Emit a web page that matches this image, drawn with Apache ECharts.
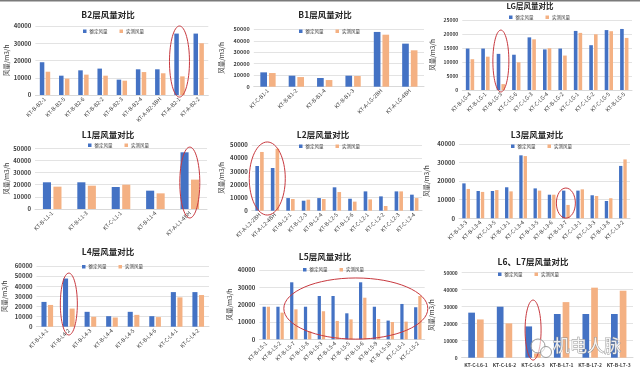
<!DOCTYPE html>
<html><head><meta charset="utf-8">
<script src="https://cdn.jsdelivr.net/npm/echarts@6/dist/echarts.min.js"></script>
<style>html,body{margin:0;padding:0;background:#fff}#c{width:640px;height:374px}</style>
</head><body><div id="c"></div>
<script>
// ---- Data ----
const seriesNames = ['额定风量', '实测风量'];
const yName = '风量/m3/h';

const b2Cats = ['KT-B-B2-1','KT-B-B2-5','KT-B-B2-6','KT-B-B2-2','KT-B-B2-3','KT-B-B2-4','KT-A-B2-3BH','KT-A-B2-1','KT-A-B2-2'];
const b2Rated = [19000,11200,14300,15300,8900,14900,14900,35600,35600];
const b2Measured = [13500,9500,11800,11200,8300,13300,12600,10800,30000];

const b1Cats = ['KT-C-B1-1','KT-B-B1-2','KT-B-B1-4','KT-B-B1-3','KT-A-LG-2BH','KT-A-LG-4BH'];
const b1Rated = [12500,9600,7600,9600,47700,37500];
const b1Measured = [11900,8400,5800,9300,45300,31700];

const lgCats = ['KT-B-LG-4','KT-B-LG-1','KT-B-LG-3','KT-C-LG-6','KT-C-LG-3','KT-C-LG-4','KT-B-LG-2','KT-C-LG-1','KT-C-LG-2','KT-C-LG-5','KT-B-LG-5'];
const lgRated = [14800,14800,12900,12600,18800,14500,14800,21100,16000,21400,21800];
const lgMeasured = [11000,11900,2100,9900,18100,14900,12300,20400,19900,21000,18600];

const l1Cats = ['KT-B-L1-1','KT-B-L1-3','KT-C-L1-1','KT-B-L1-4','KT-A-L1-4BH'];
const l1Rated = [22000,22000,18100,15100,46700];
const l1Measured = [18400,19200,20000,12900,24200];

const l2Cats = ['KT-A-L2-2BH','KT-A-L2-4BH','KT-B-L2-1','KT-B-L2-3','KT-B-L2-4','KT-B-L2-5','KT-B-L2-6','KT-C-L2-1','KT-C-L2-2','KT-C-L2-3','KT-C-L2-4'];
const l2Rated = [34000,32500,9600,7600,9600,17800,9100,14700,10900,14700,12200];
const l2Measured = [44700,47200,8900,8400,8900,14200,6900,8600,3600,14700,9600];

const l3Cats = ['KT-B-L3-3','KT-B-L3-4','KT-C-L3-5','KT-B-L3-1','KT-C-L3-4','KT-B-L3-5','KT-B-L3-6','KT-B-L3-7','KT-C-L3-1','KT-C-L3-3','KT-B-L3-8','KT-C-L3-2'];
const l3Rated = [18800,14700,14700,16700,33900,16100,12700,14900,14900,12400,9300,28200];
const l3Measured = [15800,14200,15200,14500,33500,14900,12700,7200,15600,12000,10800,31700];

const l4Cats = ['KT-B-L4-1','KT-B-L4-2','KT-B-L4-3','KT-B-L4-4','KT-B-L4-5','KT-B-L4-6','KT-C-L4-1','KT-C-L4-2'];
const l4Rated = [24500,47600,14700,10400,14700,10400,34200,34200];
const l4Measured = [21500,17900,9800,9100,11700,9500,29000,31300];

const l5Cats = ['KT-B-L5-1','KT-B-L5-2','KT-B-L5-7','KT-B-L5-8','KT-B-L5-3','KT-B-L5-4','KT-B-L5-5','KT-B-L5-6','KT-B-L5-9','KT-B-L5-10','KT-C-L5-1','KT-C-L5-2'];
const l5Rated = [18800,18800,32900,18800,25000,25000,15000,32900,18800,10800,20400,18500];
const l5Measured = [18800,15400,17300,4600,16200,10600,11500,24000,11700,10000,10200,25000];

const l67Cats = ['KT-C-L6-1','KT-C-L6-2','KT-C-L6-3','KT-B-L7-1','KT-B-L7-2','KT-B-L7-3'];
const l67Rated = [26500,30000,18400,25700,25700,25700];
const l67Measured = [22500,20200,2500,32700,41200,39400];

// ---- Layout / style ----
const BLUE = '#4472C4', ORANGE = '#F4B183', RED = '#C8393F';
const panels = [
  {title:'B2层风量对比', cats:b2Cats, rated:b2Rated, measured:b2Measured, max:40000, interval:10000,
   grid:{left:35.4,top:26,width:172.9,height:69}, tx:108, ty:15, ts:8.5, lx:83, ly:32, gap:25, yf:6, rot:45},
  {title:'B1层风量对比', cats:b1Cats, rated:b1Rated, measured:b1Measured, max:50000, interval:10000,
   grid:{left:253.8,top:29.3,width:170.2,height:57.4}, tx:325, ty:15, ts:8.5, lx:299, ly:32, gap:29, yf:5.5, rot:45},
  {title:'LG层风量对比', cats:lgCats, rated:lgRated, measured:lgMeasured, max:25000, interval:5000,
   grid:{left:462.3,top:20,width:169.7,height:70}, tx:530, ty:6, ts:7.5, lx:509, ly:18, gap:27, yf:5, rot:45},
  {title:'L1层风量对比', cats:l1Cats, rated:l1Rated, measured:l1Measured, max:50000, interval:10000,
   grid:{left:35,top:148.3,width:172,height:60.7}, tx:108, ty:135, ts:8.5, lx:88, ly:146, gap:23, yf:6, rot:45},
  {title:'L2层风量对比', cats:l2Cats, rated:l2Rated, measured:l2Measured, max:50000, interval:10000,
   grid:{left:251.8,top:145,width:170.2,height:65.7}, tx:323, ty:135, ts:8.5, lx:299, ly:147, gap:27, yf:6, rot:45},
  {title:'L3层风量对比', cats:l3Cats, rated:l3Rated, measured:l3Measured, max:40000, interval:10000,
   grid:{left:459,top:144,width:171,height:74.3}, tx:537, ty:135, ts:8.5, lx:511, ly:147, gap:29, yf:6, rot:45},
  {title:'L4层风量对比', cats:l4Cats, rated:l4Rated, measured:l4Measured, max:60000, interval:10000,
   grid:{left:36.4,top:266,width:172.6,height:60.7}, tx:108, ty:252, ts:8.5, lx:82, ly:267.5, gap:29, yf:6, rot:45},
  {title:'L5层风量对比', cats:l5Cats, rated:l5Rated, measured:l5Measured, max:40000, interval:10000,
   grid:{left:259.4,top:270,width:165.3,height:69.3}, tx:325, ty:257, ts:8.5, lx:303, ly:270.5, gap:27, yf:6, rot:45},
  {title:'L6、L7层风量对比', cats:l67Cats, rated:l67Rated, measured:l67Measured, max:50000, interval:10000,
   grid:{left:461.7,top:272.7,width:171.3,height:85}, tx:533, ty:262, ts:8.5, lx:498, ly:275, gap:27, yf:4.8, rot:0}
];

// annotation ellipses: panel, category indices (centre = mean of their band centres), half-width px, value range
const ellipses = [
  {p:0, cats:[7], rx:10, top:40000, bot:-1200},
  {p:2, cats:[2], rx:8, top:21400, bot:-700},
  {p:3, cats:[4], rx:10, top:51000, bot:-7400},
  {p:4, cats:[0,1], rx:18, top:52300, bot:-3300},
  {p:5, cats:[7], rx:9.5, top:16300, bot:100},
  {p:6, cats:[1], rx:8.5, top:53000, bot:-8200},
  {p:7, cats:[6,7], rx:72, top:35400, bot:100},
  {p:8, cats:[2], rx:8, top:33900, bot:-1400}
];

const FONT = '"Noto Sans CJK SC","Noto Sans",sans-serif';
const chart = echarts.init(document.getElementById('c'), null, {renderer:'canvas'});

const grids = [], xAxes = [], yAxes = [], series = [], legends = [];
panels.forEach((p, i) => {
  grids.push(Object.assign({containLabel:false}, p.grid));
  xAxes.push({type:'category', gridIndex:i, data:p.cats,
    axisLine:{lineStyle:{color:'#D9D9D9', width:1}}, axisTick:{show:false},
    axisLabel:{interval:0, rotate:p.rot, fontSize:p.rot ? 5.5 : 5, color:'#404040', margin:p.rot ? 3 : 5, fontFamily:FONT, fontWeight:p.rot ? 'normal' : 'bold'}});
  yAxes.push({type:'value', gridIndex:i, min:0, max:p.max, interval:p.interval,
    name:yName, nameLocation:'middle', nameRotate:90, nameGap:p.gap,
    nameTextStyle:{fontSize:6.5, color:'#404040', fontFamily:FONT},
    axisLine:{show:false}, axisTick:{show:false},
    splitLine:{lineStyle:{color:'#E3E3E3', width:1}},
    axisLabel:{formatter:v => String(v), fontSize:p.yf, color:'#404040', margin:4, fontFamily:FONT, fontWeight:'bold'}});
  series.push({name:seriesNames[0], type:'bar', xAxisIndex:i, yAxisIndex:i, data:p.rated,
    itemStyle:{color:BLUE}, barGap:'30%', barCategoryGap:'46%', animation:false});
  series.push({name:seriesNames[1], type:'bar', xAxisIndex:i, yAxisIndex:i, data:p.measured,
    itemStyle:{color:ORANGE}, barGap:'30%', barCategoryGap:'46%', animation:false});
  legends.push({data:seriesNames, left:p.lx, top:p.ly - 3, padding:0, itemWidth:3.5, itemHeight:3.5,
    itemGap:12, icon:'rect', textStyle:{fontSize:4.5, color:'#404040', fontFamily:FONT, padding:[0,0,0,-2]}});
});

chart.setOption({
  animation:false,
  backgroundColor:'#fff',
  grid:grids, xAxis:xAxes, yAxis:yAxes, series:series, legend:legends
});

const graphics = [];
graphics.push({type:'rect', shape:{x:0, y:0, width:640, height:1.5}, style:{fill:'#7a7a7a'}, z:100});
panels.forEach(p => {
  graphics.push({type:'text', x:p.tx, y:p.ty, z:100,
    style:{text:p.title, fill:'#262626', font:'bold ' + p.ts + 'px ' + FONT, textAlign:'center', textVerticalAlign:'middle'}});
});
ellipses.forEach(e => {
  const xs = e.cats.map(c => chart.convertToPixel({xAxisIndex:e.p}, c));
  const cx = xs.reduce((a, b) => a + b, 0) / xs.length;
  const yt = chart.convertToPixel({yAxisIndex:e.p}, e.top);
  const yb = chart.convertToPixel({yAxisIndex:e.p}, e.bot);
  graphics.push({type:'ellipse', z:100, silent:true,
    shape:{cx:cx, cy:(yt + yb) / 2, rx:e.rx, ry:Math.abs(yb - yt) / 2},
    style:{fill:'none', stroke:RED, lineWidth:1}});
});
// watermark
graphics.push({type:'circle', z:110, shape:{cx:538, cy:346, r:7}, style:{fill:'rgba(255,255,255,0.6)', stroke:'#9a9a9a', lineWidth:1}});
graphics.push({type:'circle', z:111, shape:{cx:546, cy:352, r:5.5}, style:{fill:'rgba(255,255,255,0.6)', stroke:'#9a9a9a', lineWidth:1}});
graphics.push({type:'text', x:553, y:346, z:112,
  style:{text:'机电人脉', fill:'rgba(255,255,255,0.85)', stroke:'#8f8f8f', lineWidth:0.8,
    font:'17px ' + FONT, textAlign:'left', textVerticalAlign:'middle'}});

chart.setOption({graphic:graphics});
</script>
</body></html>
